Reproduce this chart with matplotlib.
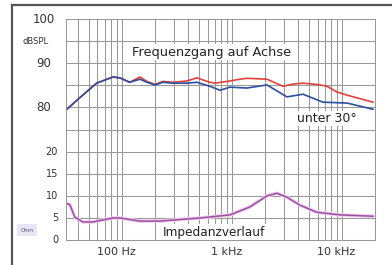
import matplotlib
matplotlib.use("Agg")
import matplotlib.pyplot as plt
import matplotlib.transforms as mtransforms
from matplotlib.lines import Line2D
import numpy as np

# frequency response on axis (red) and at 30 degrees (blue), dBSPL
f_axis = [31, 41, 59, 83, 96, 118, 146, 169, 200, 236, 290, 390, 480, 630, 700,
          960, 1180, 1370, 2080, 2910, 3600, 4420, 6000, 7300, 9000, 11100, 19100]
db_axis = [79.4, 82.1, 85.5, 86.9, 86.7, 85.7, 86.9, 85.9, 85.2, 85.9, 85.7, 86.0, 86.7, 85.7, 85.5,
           86.0, 86.4, 86.6, 86.4, 84.8, 85.3, 85.5, 85.2, 84.8, 83.5, 82.8, 81.2]

f_30 = [31, 41, 59, 83, 96, 118, 146, 169, 200, 236, 290, 390, 480, 630, 780,
        960, 1370, 2080, 3160, 4420, 6720, 11100, 19100]
db_30 = [79.4, 82.1, 85.5, 86.9, 86.7, 85.7, 86.4, 85.7, 85.1, 85.7, 85.5, 85.5, 85.7, 84.8, 83.9,
         84.6, 84.4, 85.1, 82.4, 83.0, 81.2, 81.0, 79.6]

# impedance, Ohm
f_imp = [31, 33.7, 37.4, 44.2, 54.5, 83, 96, 146, 221, 512, 960, 1455, 2080, 2560,
         3160, 4150, 5900, 9600, 19100]
ohm = [8.4, 8.0, 5.2, 4.1, 4.1, 5.0, 5.0, 4.3, 4.3, 5.0, 5.7, 7.5, 10.0, 10.6,
       9.7, 7.9, 6.3, 5.7, 5.4]

db_ticks = [100, 90, 80]
ohm_ticks = [20, 15, 10, 5, 0]
freq_ticks = [100, 1000, 10000]
freq_labels = ["100 Hz", "1 kHz", "10 kHz"]


def db_pos(v):
    # 5 dB per grid row, 100 dB on the top line
    return (np.asarray(v) - 50) / 5.0


def ohm_pos(v):
    # 5 Ohm per grid row, 0 Ohm on the bottom line
    return np.asarray(v) / 5.0


fig = plt.figure(figsize=(3.92, 2.65), dpi=100)
fig.patch.set_facecolor("white")
ax = fig.add_axes([0.168, 0.094, 0.789, 0.834])

ax.set_xscale("log")
ax.set_xlim(31, 20000)
ax.set_ylim(0, 10)

grid_col = "#999999"
ax.set_yticks(range(0, 11))
ax.set_xticks(freq_ticks)
minor = [m * d for d in (10, 100, 1000) for m in range(2, 10) if m * d > 35]
ax.set_xticks(minor, minor=True)
ax.grid(True, which="both", axis="x", color=grid_col, lw=0.75)
ax.grid(True, which="major", axis="y", color=grid_col, lw=0.75)
ax.tick_params(which="both", length=0)
ax.set_yticklabels([])
for s in ax.spines.values():
    s.set_color(grid_col)
    s.set_linewidth(0.75)

ax.set_xticklabels(freq_labels, fontsize=8, color="#333333")
ax.tick_params(axis="x", pad=5)
offset = mtransforms.ScaledTranslation(-4 / 72, 0, fig.dpi_scale_trans)
for lbl in ax.get_xticklabels():
    lbl.set_transform(lbl.get_transform() + offset)

# curves
ax.plot(f_imp, ohm_pos(ohm), color="#efcdef", lw=2.6, solid_capstyle="round")
ax.plot(f_imp, ohm_pos(ohm), color="#9a4f9f", lw=1.1)
ax.plot(f_axis, db_pos(db_axis), color="#e2403a", lw=1.2)
ax.plot(f_30, db_pos(db_30), color="#2c4f9e", lw=1.2)

# left labels
ytr = ax.get_yaxis_transform()
for v in db_ticks:
    ax.text(-0.072, db_pos(v), str(v), transform=ytr, ha="center", va="center",
            fontsize=8.5, color="#333333", clip_on=False)
ax.text(-0.098, 9, "dBSPL", transform=ytr, ha="center", va="center",
        fontsize=6, color="#333333", clip_on=False)
for v in ohm_ticks:
    ax.text(-0.025, ohm_pos(v), str(v), transform=ytr, ha="right", va="center",
            fontsize=7, color="#333333", clip_on=False)
ax.text(-0.125, 0.45, "Ohm", transform=ytr, ha="center", va="center",
        fontsize=4, color="#555577", clip_on=False,
        bbox=dict(boxstyle="square,pad=0.6", fc="#e6e6f4", ec="none"))

# annotations
ax.text(0.47, 8.5, "Frequenzgang auf Achse", transform=ytr, ha="center", va="center",
        fontsize=9.3, color="#222222",
        bbox=dict(boxstyle="square,pad=0.1", fc="white", ec="none"))
ax.text(0.94, 5.5, "unter 30°", transform=ytr, ha="right", va="center",
        fontsize=9, color="#222222",
        bbox=dict(boxstyle="square,pad=0.1", fc="white", ec="none"))
ax.text(0.48, 0.36, "Impedanzverlauf", transform=ytr, ha="center", va="center",
        fontsize=8.7, color="#222222",
        bbox=dict(boxstyle="square,pad=0.1", fc="white", ec="none"))

# outer frame (left and top edge only)
fig.add_artist(Line2D([11.5 / 392, 11.5 / 392], [0, 1 - 5 / 265], color="#555555", lw=1.6,
                      transform=fig.transFigure))
fig.add_artist(Line2D([11.5 / 392, 1], [1 - 5 / 265, 1 - 5 / 265], color="#555555", lw=1.6,
                      transform=fig.transFigure))

fig.savefig("out.png", dpi=100)
